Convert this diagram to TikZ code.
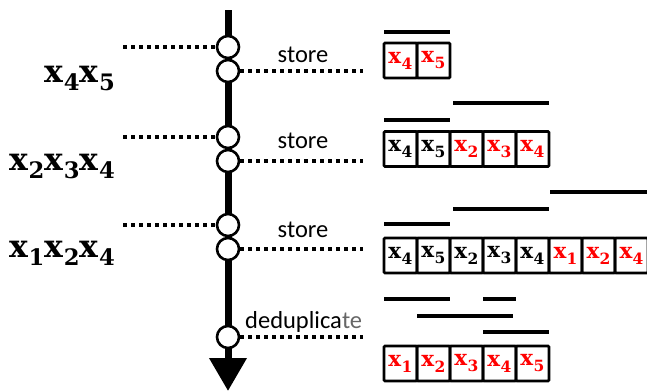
\documentclass[tikz,border=0pt]{standalone}
\usepackage{graphicx}
\usepackage{fontspec}
\setsansfont{Carlito}
\newfontfamily\xfont{DejaVu Serif}
\usetikzlibrary{arrows.meta}
\definecolor{xred}{RGB}{255,0,0}
\newcommand\xv[1]{{\xfont\bfseries x\kern0.02em\raisebox{-0.28em}{\scalebox{0.72}{#1}}}}
\begin{document}
\begin{tikzpicture}[x=1pt,y=-1pt,
  pt/.style={circle,draw,line width=2.6pt,fill=white,minimum size=22pt,inner sep=0pt},
  dots/.style={line width=3.5pt,dash pattern=on 4pt off 4pt},
  cell/.style={draw,line width=2.6pt,minimum width=33pt,minimum height=35pt,inner sep=0pt,rounded corners=1pt,font=\fontsize{21.5}{21.5}\selectfont},
  bar/.style={line width=4pt},
  lbl/.style={anchor=base east,inner sep=0pt,font=\fontsize{31.5}{31.5}\selectfont},
  op/.style={anchor=base,inner sep=0pt,font=\sffamily\fontsize{24.5}{25}\selectfont}]
\useasboundingbox (0,0) rectangle (647,391);
% main time line
\coordinate (top) at (228,10);
\coordinate (tip) at (228,391);
\draw[line width=7pt,-{Triangle[width=36pt,length=33pt]}] (top) -- (tip);
% circles
\node[pt] (a1) at (228,47) {};
\node[pt] (a2) at (228,71) {};
\node[pt] (b1) at (228,137) {};
\node[pt] (b2) at (228,161) {};
\node[pt] (c1) at (228,225) {};
\node[pt] (c2) at (228,249) {};
\node[pt] (d1) at (228,337) {};
% dotted connectors
\coordinate (la) at (123,47);
\coordinate (lb) at (123,137);
\coordinate (lc) at (123,225);
\coordinate (ra) at (363,71);
\coordinate (rb) at (363,161);
\coordinate (rc) at (363,249);
\coordinate (rd) at (363,337);
\draw[dots] (la) -- (a1.west);
\draw[dots] (lb) -- (b1.west);
\draw[dots] (lc) -- (c1.west);
\draw[dots] (a2.east) -- (ra);
\draw[dots] (b2.east) -- (rb);
\draw[dots] (c2.east) -- (rc);
\draw[dots] (d1.east) -- (rd);
% labels
\node[lbl] (ta) at (115,82) {\xv{4}\xv{5}};
\node[lbl] (tb) at (115,170) {\xv{2}\xv{3}\xv{4}};
\node[lbl] (tc) at (115,257) {\xv{1}\xv{2}\xv{4}};
\node[op] (sa) at (303,62) {store};
\node[op] (sb) at (303,148) {store};
\node[op] (sc) at (303,237) {store};
\node[op,anchor=base west] (sd) at (245,328) {deduplica\textcolor{black!60}{te}};
% cells
\foreach \s/\c [count=\i] in {4/xred,5/xred}
  \node[cell,text=\c] (p\i) at ({384+16.5+33*(\i-1)},60.5) {\xv{\s}};
\foreach \s/\c [count=\i] in {4/black,5/black,2/xred,3/xred,4/xred}
  \node[cell,text=\c] (q\i) at ({384+16.5+33*(\i-1)},149) {\xv{\s}};
\foreach \s/\c [count=\i] in {4/black,5/black,2/black,3/black,4/black,1/xred,2/xred,4/xred}
  \node[cell,text=\c] (u\i) at ({384+16.5+33*(\i-1)},255.5) {\xv{\s}};
\foreach \s/\c [count=\i] in {1/xred,2/xred,3/xred,4/xred,5/xred}
  \node[cell,text=\c] (v\i) at ({384+16.5+33*(\i-1)},363.5) {\xv{\s}};
% bars
\draw[bar] (384,32) -- (450,32);
\draw[bar] (384,120) -- (450,120);
\draw[bar] (453,103) -- (549,103);
\draw[bar] (384,224) -- (450,224);
\draw[bar] (453,209) -- (549,209);
\draw[bar] (550,192) -- (647,192);
\draw[bar] (384,299) -- (450,299);
\draw[bar] (483,299) -- (516,299);
\draw[bar] (417,316) -- (513,316);
\draw[bar] (483,332) -- (549,332);
\end{tikzpicture}
\end{document}
